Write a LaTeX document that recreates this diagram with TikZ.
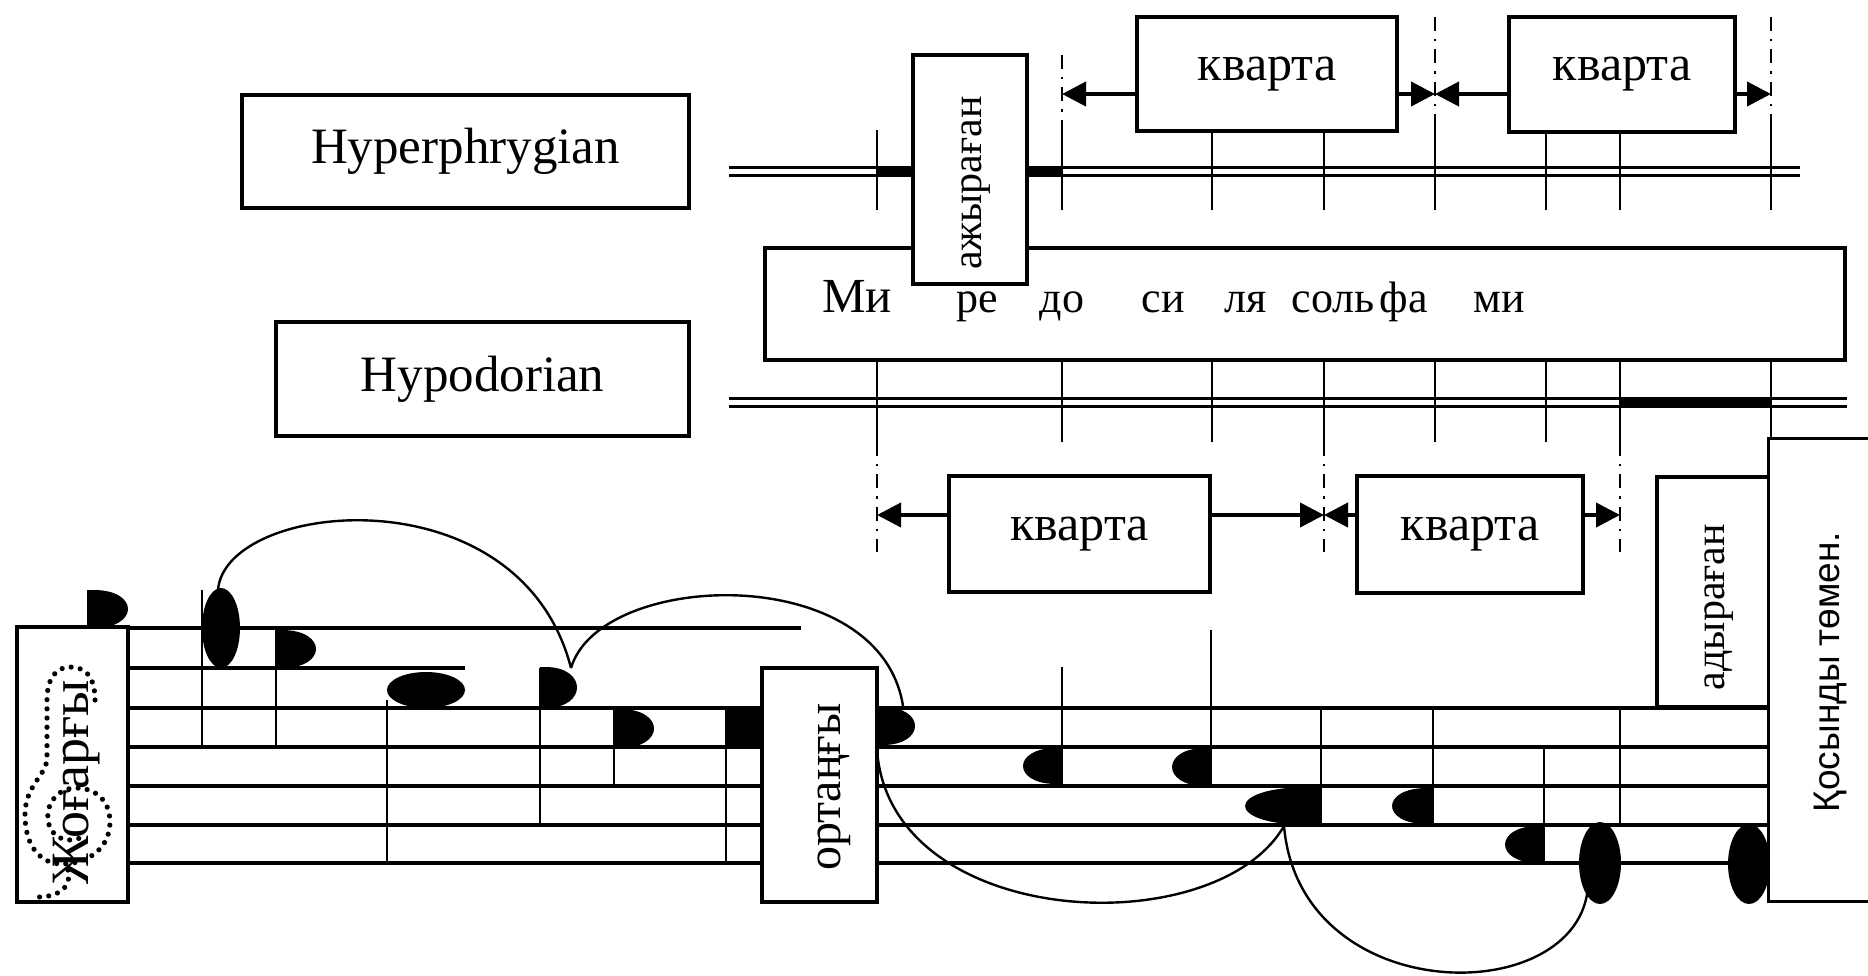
\documentclass[tikz,border=0pt]{standalone}
\usepackage{fontspec}
\setmainfont{Liberation Serif}
\newfontfamily\kossans{Liberation Sans}
\usetikzlibrary{arrows.meta}
\newcommand{\dnote}[4]{%
  \pgfmathsetmacro{\dnXm}{#1+0.15*(#4-#1)}%
  \pgfmathsetmacro{\dnXc}{(#4-0.25*\dnXm)/0.75}%
  \fill (#1,#2) -- (\dnXm,#2) .. controls (\dnXc,#2) and (\dnXc,#3) .. (\dnXm,#3) -- (#1,#3) -- cycle;}
\begin{document}
\begin{tikzpicture}[x=0.5pt,y=-0.5pt,
  boxline/.style={line width=1.6pt},
  box/.style={draw, line width=1.6pt, fill=white, inner sep=0pt, font=\fontsize{25}{30}\selectfont},
  staff/.style={line width=1.7pt},
  tick/.style={line width=1.4pt},
  ddash/.style={line width=1.4pt, dash pattern=on 7pt off 4pt on 1.2pt off 4pt},
  arr/.style={line width=2pt, -{Triangle[length=12pt,width=12pt]}},
  slur/.style={line width=1.2pt},
  clefdots/.style={line width=2.6pt, line cap=round, dash pattern=on 0pt off 4.6pt},
  word/.style={anchor=base, inner sep=0pt, font=\fontsize{22}{27}\selectfont},
  vtext/.style={rotate=90, inner sep=0pt},
]
\useasboundingbox (0,0) rectangle (1868,975);
\fill[white] (0,0) rectangle (1868,975);

% ---------- double staves ----------
\draw[staff] (729,167.5) -- (1800,167.5) (729,175.5) -- (1800,175.5);
\fill (877,166) rectangle (913,177);
\fill (1027,166) rectangle (1062,177);
\draw[staff] (729,398.5) -- (1847,398.5) (729,406.5) -- (1847,406.5);
\fill (1620,397) rectangle (1771,408);

% ticks on the upper double staff
\foreach \x/\t in {877/130,1212/131,1324/131,1546/132,1620/132} \draw[tick] (\x,\t) -- (\x,210);
\foreach \x/\t in {1062/55,1435/17,1771/17} {\draw[ddash] (\x,\t) -- (\x,122); \draw[tick] (\x,122) -- (\x,210);}
% ticks on the lower double staff
\foreach \x in {877,1062,1212,1324,1435,1546,1620,1771} \draw[tick] (\x,360) -- (\x,442);
\foreach \x in {877,1324,1620} \draw[ddash] (\x,442) -- (\x,552);

% ---------- boxes of the upper part ----------
\node[box, minimum width=223.5pt, minimum height=56.5pt, font=\fontsize{25.5}{30}\selectfont] (hyper) at (465.5,151.5) {Hyperphrygian};
\node[box, minimum width=206.5pt, minimum height=57pt, font=\fontsize{25.5}{30}\selectfont] (hypo) at (482.5,379) {Hypodorian};
\node[box, minimum width=540pt, minimum height=56pt] (names) at (1305,304) {};
\node[word, font=\fontsize{24.5}{29}\selectfont] (w1) at (857,312) {Ми};
\node[word] (w2) at (977,312) {ре};
\node[word] (w3) at (1062,312) {до};
\node[word] (w4) at (1163,312) {си};
\node[word] (w5) at (1246,312) {ля};
\node[word] (w6) at (1333,312) {соль};
\node[word] (w7) at (1404,312) {фа};
\node[word] (w8) at (1499,312) {ми};

\node[box, minimum width=57pt, minimum height=114.5pt] (azh) at (970,169.5) {};
\node[vtext, font=\fontsize{21}{25}\selectfont] (azhtext) at (976,183) {ажыраған};

\node[box, minimum width=130pt, minimum height=57pt] (kvA) at (1267,74) {кварта};
\node[box, minimum width=113pt, minimum height=57.5pt] (kvB) at (1622,74.5) {кварта};
\node[box, minimum width=130.5pt, minimum height=58pt] (kvC) at (1079.5,534) {кварта};
\node[box, minimum width=113pt, minimum height=58.5pt] (kvD) at (1470,534.5) {кварта};

\coordinate (ta2) at (1062,94);
\coordinate (ta5) at (1435,94);
\coordinate (ta8) at (1771,94);
\coordinate (tb1) at (877,515);
\coordinate (tb4) at (1324,515);
\coordinate (tb7) at (1620,515);
\draw[arr] (kvA.west |- ta2) -- (ta2);
\draw[arr] (kvA.east |- ta5) -- (ta5);
\draw[arr] (kvB.west |- ta5) -- (ta5);
\draw[arr] (kvB.east |- ta8) -- (ta8);
\draw[arr] (kvC.west |- tb1) -- (tb1);
\draw[arr] (kvC.east |- tb4) -- (tb4);
\draw[arr] (kvD.west |- tb4) -- (tb4);
\draw[arr] (kvD.east |- tb7) -- (tb7);

% ---------- lower staff ----------
\draw[staff] (17,628) -- (801,628);
\draw[staff] (128,668) -- (465,668);
\foreach \y in {708,747,786,825,863} \draw[staff] (128,\y) -- (1769,\y);

% stems and bars
\foreach \x/\a/\b in {88/590/628, 202/590/745, 276/630/745, 387/700/863, 540/668/825,
  614/710/786, 726/710/863, 1062/667/786, 1211/630/786, 1321/708/825, 1433/708/825,
  1544/747/863, 1620/708/825}
  \draw[tick] (\x,\a) -- (\x,\b);

% side boxes
\node[box, minimum width=55.5pt, minimum height=137.5pt] (zhog) at (72.5,764.5) {};
\draw[clefdots] (95,700) .. controls (95,675) and (84,667) .. (70,667)
  .. controls (55,667) and (47,680) .. (47,700) -- (47,758)
  .. controls (47,775) and (25,785) .. (25,815)
  .. controls (25,848) and (42,864) .. (62,864)
  .. controls (88,864) and (110,848) .. (110,822)
  .. controls (110,800) and (95,788) .. (76,788)
  .. controls (58,788) and (46,803) .. (48,820)
  .. controls (50,836) and (64,844) .. (80,838);
\draw[clefdots] (68,870) .. controls (72,888) and (58,898) .. (33,897);
\node[vtext, font=\fontsize{27}{32}\selectfont] (zhogtext) at (77,782) {Жоғарғы};

\node[box, minimum width=57.5pt, minimum height=117pt] (orta) at (819.5,785) {};
\node[vtext, font=\fontsize{24}{29}\selectfont] (ortatext) at (834,787) {ортаңғы};

\node[box, minimum width=56pt, minimum height=115pt] (ady) at (1713,592) {};
\node[vtext, font=\fontsize{21}{25}\selectfont] (adytext) at (1719,607) {адыраған};

\node[fill=white, inner sep=0pt, minimum width=49.5pt, minimum height=231pt] (kos) at (1818.5,670) {};
\draw[boxline] (kos.north east) -- (kos.north west) -- (kos.south west) -- (kos.south east);
\node[vtext, font=\kossans\fontsize{18.5}{23}\selectfont] (kostext) at (1830,672) {Қосынды төмен.};

% ---------- slurs ----------
\coordinate (n2top) at (218,590);
\coordinate (n5top) at (571,668);
\coordinate (n8top) at (903,706);
\coordinate (n8bl) at (877,750);
\coordinate (n11bot) at (1284,826);
\coordinate (n14bl) at (1588,886);
\draw[slur] (n2top) .. controls (225,500) and (520,470) .. (n5top);
\draw[slur] (n5top) .. controls (600,570) and (880,560) .. (n8top);
\draw[slur] (n8bl) .. controls (890,930) and (1215,945) .. (n11bot);
\draw[slur] (n11bot) .. controls (1300,1010) and (1580,1010) .. (n14bl);

% ---------- note heads ----------
\dnote{88}{590}{628}{128}
\fill (221,628) ellipse [x radius=19, y radius=40];
\dnote{276}{630}{668}{316}
\fill (426,690) ellipse [x radius=39, y radius=18];
\dnote{540}{667}{708}{577}
\dnote{614}{709}{748}{654}
\fill (726,708) rectangle (762,748);
\dnote{877}{707}{745}{915}
\dnote{1062}{748}{784}{1023}
\dnote{1211}{748}{786}{1172}
\dnote{1321}{787}{825}{1245}
\dnote{1433}{788}{824}{1392}
\dnote{1544}{826}{863}{1505}
\fill (1600,863) ellipse [x radius=21, y radius=41];
\fill (1749,864) ellipse [x radius=21, y radius=40];
\end{tikzpicture}
\end{document}
